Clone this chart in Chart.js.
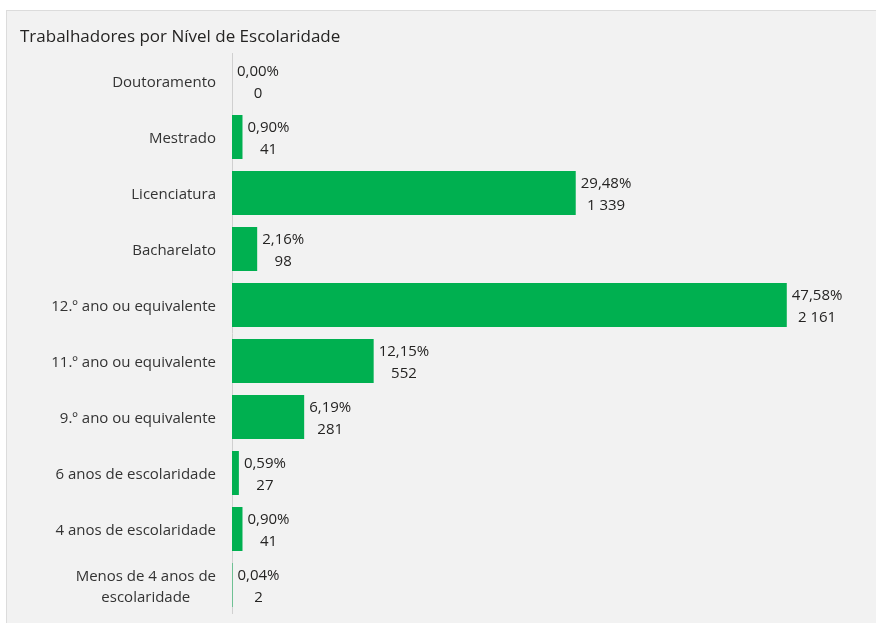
<!DOCTYPE html>
<html>
<head>
<meta charset="utf-8">
<script src="https://cdn.jsdelivr.net/npm/chart.js@4.4.1/dist/chart.umd.min.js"></script>
<style>
  html, body { margin: 0; padding: 0; background: #ffffff; }
  #panel { position: absolute; left: 6px; top: 10px; right: 0; bottom: 0; background: #f2f2f2; border-left: 1px solid #dcdcdc; border-top: 1px solid #dcdcdc; }
  #wrap { position: absolute; left: 0; top: 0; width: 876px; height: 623px; }
</style>
</head>
<body>
<div id="panel"></div>
<div id="wrap"><canvas id="c" width="876" height="623"></canvas></div>
<script>
const title = "Trabalhadores por Nível de Escolaridade";
const categories = [
  "Doutoramento",
  "Mestrado",
  "Licenciatura",
  "Bacharelato",
  "12.º ano ou equivalente",
  "11.º ano ou equivalente",
  "9.º ano ou equivalente",
  "6 anos de escolaridade",
  "4 anos de escolaridade",
  ["Menos de 4 anos de", "escolaridade"]
];
const percentValues = [0.00, 0.90, 29.48, 2.16, 47.58, 12.15, 6.19, 0.59, 0.90, 0.04];
const countLabels = ["0", "41", "1 339", "98", "2 161", "552", "281", "27", "41", "2"];
const percentLabels = ["0,00%", "0,90%", "29,48%", "2,16%", "47,58%", "12,15%", "6,19%", "0,59%", "0,90%", "0,04%"];

const FONT = "'Open Sans', 'Noto Sans', sans-serif";

const drawPlugin = {
  id: 'customText',
  afterDraw(chart) {
    const ctx = chart.ctx;
    const yScale = chart.scales.y;
    const meta = chart.getDatasetMeta(0);
    ctx.save();
    // title
    ctx.font = "17px " + FONT;
    ctx.fillStyle = "#252423";
    ctx.textAlign = "left";
    ctx.textBaseline = "middle";
    ctx.fillText(title, 20, 37);
    // category labels
    ctx.font = "15px " + FONT;
    ctx.fillStyle = "#333333";
    categories.forEach((lab, i) => {
      const y = yScale.getPixelForValue(i) + 2;
      const rightX = chart.chartArea.left - 16;
      if (Array.isArray(lab)) {
        const widths = lab.map(l => ctx.measureText(l).width);
        const maxW = Math.max(...widths);
        const cx = rightX - maxW / 2;
        ctx.textAlign = "center";
        lab.forEach((l, k) => {
          ctx.fillText(l, cx, y + (k - (lab.length - 1) / 2) * 21);
        });
      } else {
        ctx.textAlign = "right";
        ctx.fillText(lab, rightX, y);
      }
    });
    // data labels
    ctx.fillStyle = "#252423";
    meta.data.forEach((bar, i) => {
      const lines = [percentLabels[i], countLabels[i]];
      const maxW = Math.max(...lines.map(l => ctx.measureText(l).width));
      const cx = bar.x + 5 + maxW / 2;
      ctx.textAlign = "center";
      ctx.fillText(lines[0], cx, bar.y - 9);
      ctx.fillText(lines[1], cx, bar.y + 13);
    });
    ctx.restore();
  }
};

new Chart(document.getElementById('c'), {
  type: 'bar',
  data: {
    labels: categories,
    datasets: [{
      data: percentValues,
      backgroundColor: '#00b050',
      borderWidth: 0,
      categoryPercentage: 1.0,
      barPercentage: 0.785
    }]
  },
  options: {
    indexAxis: 'y',
    responsive: false,
    animation: false,
    layout: { padding: { top: 53, bottom: 10, left: 0, right: 61 } },
    plugins: { legend: { display: false }, tooltip: { enabled: false }, title: { display: false } },
    scales: {
      x: { display: false, min: 0, max: 50 },
      y: {
        grid: { display: false, drawTicks: false },
        border: { display: true, color: '#d0d0d0', width: 1 },
        ticks: { display: false },
        afterFit(scale) { scale.width = 232; }
      }
    }
  },
  plugins: [drawPlugin]
});
</script>
</body>
</html>
